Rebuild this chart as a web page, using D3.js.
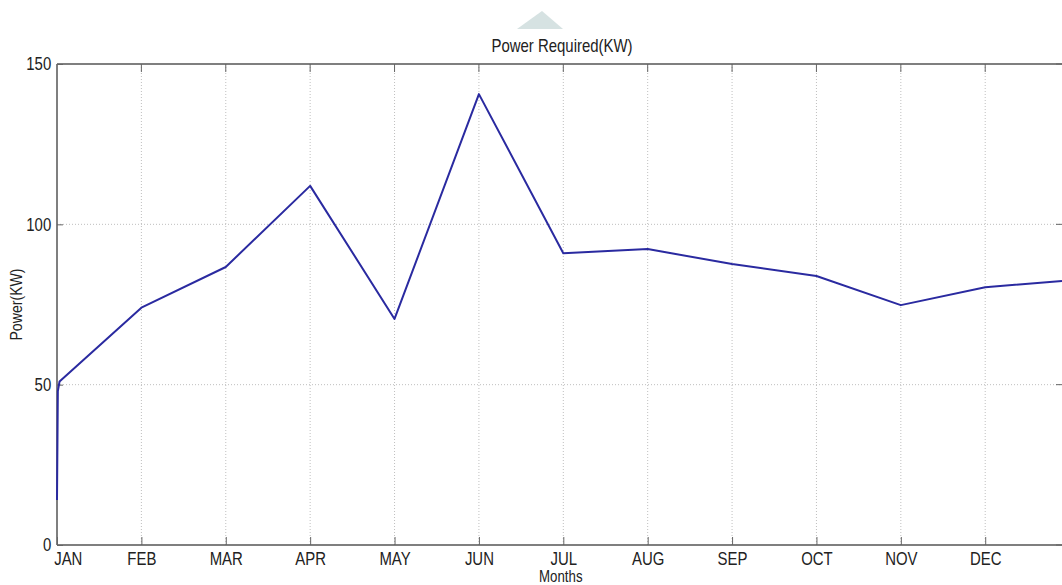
<!DOCTYPE html>
<html>
<head>
<meta charset="UTF-8">
<title>Power Required(KW)</title>
<style>
  body { margin: 0; background: #fff; }
  text { font-family: "Liberation Sans", Arial, sans-serif; fill: #222; }
</style>
</head>
<body>
<div id="chart"></div>
<script src="https://d3js.org/d3.v7.min.js"></script>
<script>
// month tick labels at positions 1..12
var months = ["JAN", "FEB", "MAR", "APR", "MAY", "JUN", "JUL", "AUG", "SEP", "OCT", "NOV", "DEC"];
// series: x position (month index) and power in KW
var monthPos = [1, 1.01, 1.03, 2, 3, 4, 5, 6, 7, 8, 9, 10, 11, 12, 12.91];
var powerKW = [14, 48, 51, 74, 86.7, 112, 70.5, 140.6, 91, 92.3, 87.6, 83.9, 74.8, 80.4, 82.3];
var yTicks = [0, 50, 100, 150];

var width = 1062, height = 585;
var margin = { top: 64, right: 0, bottom: 40, left: 57 };
var squeeze = "scale(0.83,1)";   // narrow glyphs like the original

var svg = d3.select("#chart").append("svg")
    .attr("width", width)
    .attr("height", height);

var x = d3.scaleLinear()
    .domain([1, 12.91])
    .range([margin.left, width - margin.right]);

var y = d3.scaleLinear()
    .domain([0, 150])
    .range([height - margin.bottom, margin.top]);

// faint triangle above the title
svg.append("path")
    .attr("d", "M517,29 L542,11 L563,29 Z")
    .attr("fill", "#d6e2e2");

// grid
svg.append("g").selectAll("line")
    .data(d3.range(2, 13))
    .join("line")
    .attr("x1", d => x(d)).attr("x2", d => x(d))
    .attr("y1", y(0)).attr("y2", y(150))
    .attr("stroke", "#bfbfbf")
    .attr("stroke-dasharray", "1,2");

svg.append("g").selectAll("line")
    .data([50, 100])
    .join("line")
    .attr("x1", x(1)).attr("x2", width)
    .attr("y1", d => y(d)).attr("y2", d => y(d))
    .attr("stroke", "#bfbfbf")
    .attr("stroke-dasharray", "1,2");

// frame lines
var frame = svg.append("g").attr("stroke", "#555").attr("stroke-width", 1.5);
frame.append("line").attr("x1", x(1)).attr("x2", width).attr("y1", y(0)).attr("y2", y(0));
frame.append("line").attr("x1", x(1)).attr("x2", width).attr("y1", y(150)).attr("y2", y(150));
frame.append("line").attr("x1", x(1)).attr("x2", x(1)).attr("y1", y(0)).attr("y2", y(150));

// x axis
var xAxis = d3.axisBottom(x)
    .tickValues(d3.range(1, 13))
    .tickFormat(d => months[d - 1])
    .tickSizeInner(-8)
    .tickSizeOuter(0)
    .tickPadding(7);

var gx = svg.append("g")
    .attr("transform", "translate(0," + y(0) + ")")
    .call(xAxis);
gx.select(".domain").remove();
gx.selectAll("line").attr("stroke", "#666");
gx.selectAll("text")
    .attr("font-size", 18)
    .attr("fill", "#222")
    .attr("transform", squeeze)
    .style("font-family", null);
// first label sits right of its tick, as in the original
gx.selectAll("text").filter(d => d === 1).attr("x", 13);

// top ticks
svg.append("g").selectAll("line")
    .data(d3.range(2, 13))
    .join("line")
    .attr("x1", d => x(d)).attr("x2", d => x(d))
    .attr("y1", y(150)).attr("y2", y(150) + 8)
    .attr("stroke", "#666");

// y axis
var yAxis = d3.axisLeft(y)
    .tickValues(yTicks)
    .tickSizeInner(-6)
    .tickSizeOuter(0)
    .tickPadding(7);

var gy = svg.append("g")
    .attr("transform", "translate(" + x(1) + ",0)")
    .call(yAxis);
gy.select(".domain").remove();
gy.selectAll("line").attr("stroke", "#666");
gy.selectAll("text")
    .attr("font-size", 18)
    .attr("fill", "#222")
    .attr("transform", squeeze)
    .style("font-family", null);

// right ticks
svg.append("g").selectAll("line")
    .data(yTicks)
    .join("line")
    .attr("x1", width - 6).attr("x2", width)
    .attr("y1", d => y(d)).attr("y2", d => y(d))
    .attr("stroke", "#666");

// series line
var line = d3.line()
    .x((d, i) => x(monthPos[i]))
    .y(d => y(d));

svg.append("path")
    .datum(powerKW)
    .attr("fill", "none")
    .attr("stroke", "#2a2aa0")
    .attr("stroke-width", 2)
    .attr("stroke-linejoin", "round")
    .attr("d", line);

// title and labels
svg.append("text")
    .attr("transform", "translate(562,52) " + squeeze)
    .attr("text-anchor", "middle")
    .attr("font-size", 18)
    .text("Power Required(KW)");

svg.append("text")
    .attr("transform", "translate(" + x(6.97) + ",582) " + squeeze)
    .attr("text-anchor", "middle")
    .attr("font-size", 16)
    .text("Months");

svg.append("text")
    .attr("transform", "translate(22," + y(75) + ") rotate(-90) " + squeeze)
    .attr("text-anchor", "middle")
    .attr("font-size", 17)
    .text("Power(KW)");
</script>
</body>
</html>
